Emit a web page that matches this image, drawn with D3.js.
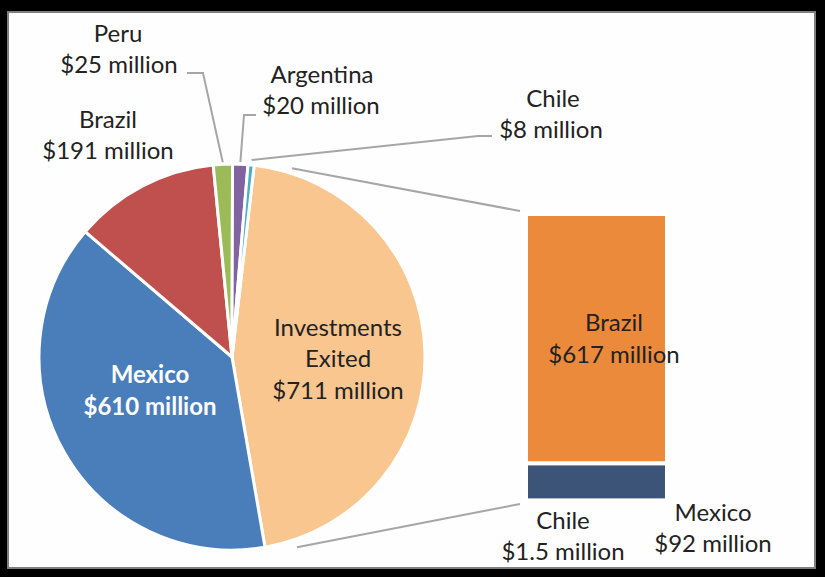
<!DOCTYPE html>
<html>
<head>
<meta charset="utf-8">
<script src="https://cdn.jsdelivr.net/npm/d3@7"></script>
<style>
  html, body { margin: 0; padding: 0; background: #000; }
  svg { display: block; }
  .lbl { font-family: Lato, "Open Sans", sans-serif; font-size: 24px; fill: #222; }
</style>
</head>
<body>
<div id="vis"></div>
<script>
// pie slices (clockwise from the "other" slice)
var pieNames  = ["Investments Exited", "Mexico", "Brazil", "Peru", "Argentina", "Chile"];
var pieValues = [711, 610, 191, 25, 20, 8];
var pieColors = ["#f9c690", "#4a7ebb", "#c0504d", "#9bbb59", "#8064a2", "#4bacc6"];

// bar of pie: breakdown of investments exited, top to bottom
var barNames  = ["Brazil", "Mexico", "Chile"];
var barValues = [617, 92, 1.5];
var barColors = ["#eb8a3b", "#3b5478", "#4bacc6"];

var width = 825, height = 577;

var svg = d3.select('#vis').append('svg')
    .attr('width', width)
    .attr('height', height);

// frame
svg.append('rect')
    .attr('x', 8).attr('y', 12)
    .attr('width', 807).attr('height', 556)
    .attr('fill', '#fefefe')
    .attr('stroke', '#7f7f7f')
    .attr('stroke-width', 2);

//Pie
//----------------------------------------------
var cx = 232, cy = 357, r = 193;
var startDeg = 6.6; // rotation of the first slice
var rad = Math.PI / 180;

var pie = d3.pie().sort(null)
    .startAngle(startDeg * rad)
    .endAngle(startDeg * rad + 2 * Math.PI);
var arcs = pie(pieValues);
var arc = d3.arc().innerRadius(0).outerRadius(r);

var gPie = svg.append('g').attr('transform', 'translate(' + cx + ',' + cy + ')');
gPie.selectAll('path.slice')
    .data(arcs)
    .enter().append('path')
    .attr('class', 'slice')
    .attr('d', arc)
    .attr('fill', function(d, i) { return pieColors[i]; })
    .attr('stroke', '#fff')
    .attr('stroke-width', 3)
    .attr('stroke-linejoin', 'round');

//Bar
//----------------------------------------------
var barX = 526, barW = 141;
var total = d3.sum(barValues);
var yScale = d3.scaleLinear().domain([0, total]).range([501, 214]);

// stack from the bottom: Chile, Mexico, Brazil
var stacked = [];
var acc = 0;
for (var i = barValues.length - 1; i >= 0; i--) {
    stacked.push({name: barNames[i], color: barColors[i], y0: acc, y1: acc + barValues[i]});
    acc += barValues[i];
}

svg.append('g').selectAll('rect')
    .data(stacked)
    .enter().append('rect')
    .attr('x', barX)
    .attr('width', barW)
    .attr('y', function(d) { return yScale(d.y1); })
    .attr('height', function(d) { return yScale(d.y0) - yScale(d.y1); })
    .attr('fill', function(d) { return d.color; })
    .attr('stroke', '#fff')
    .attr('stroke-width', 4);

//Connector lines (pie -> bar)
//----------------------------------------------
var exited = arcs[0];
function onPie(angle, rr) {
    var p = d3.pointRadial(angle, rr);
    return [cx + p[0], cy + p[1]];
}
var line = d3.line();
var grey = '#a6a6a6';

var c1 = onPie(exited.startAngle + 11 * rad, r + 5);
var c2 = onPie(exited.endAngle - 9 * rad, r + 8);
svg.append('path').attr('d', line([c1, [barX - 6, yScale(total) - 3]]))
    .attr('fill', 'none').attr('stroke', grey).attr('stroke-width', 2);
svg.append('path').attr('d', line([c2, [barX - 6, yScale(0) + 3]]))
    .attr('fill', 'none').attr('stroke', grey).attr('stroke-width', 2);

//Leader lines for small slices
//----------------------------------------------
function midAngle(d) { return (d.startAngle + d.endAngle) / 2; }
var leaders = [
    [onPie(midAngle(arcs[3]), r + 2), [203, 73], [187, 73]],   // Peru
    [onPie(midAngle(arcs[4]), r + 2), [244, 115], [256, 115]], // Argentina
    [onPie(midAngle(arcs[5]) + 0 , r + 5), [478, 136], [492, 136]] // Chile
];
svg.append('g').selectAll('path')
    .data(leaders)
    .enter().append('path')
    .attr('d', function(d) { return line(d); })
    .attr('fill', 'none')
    .attr('stroke', grey)
    .attr('stroke-width', 2);

//Labels
//----------------------------------------------
var labels = [
    {x: 118, y: 42,  t: "Peru"},
    {x: 119, y: 73,  t: "$25 million"},
    {x: 322, y: 83,  t: "Argentina"},
    {x: 321, y: 114, t: "$20 million"},
    {x: 553, y: 107, t: "Chile"},
    {x: 551, y: 138, t: "$8 million"},
    {x: 108, y: 128, t: "Brazil"},
    {x: 108, y: 159, t: "$191 million"},
    {x: 150, y: 383, t: "Mexico", white: true},
    {x: 150, y: 415, t: "$610 million", white: true},
    {x: 338, y: 336, t: "Investments"},
    {x: 338, y: 367, t: "Exited"},
    {x: 338, y: 399, t: "$711 million"},
    {x: 614, y: 331, t: "Brazil"},
    {x: 614, y: 363, t: "$617 million"},
    {x: 563, y: 529, t: "Chile"},
    {x: 563, y: 560, t: "$1.5 million"},
    {x: 713, y: 521, t: "Mexico"},
    {x: 713, y: 552, t: "$92 million"}
];

svg.append('g').selectAll('text')
    .data(labels)
    .enter().append('text')
    .attr('class', 'lbl')
    .attr('x', function(d) { return d.x; })
    .attr('y', function(d) { return d.y; })
    .attr('text-anchor', 'middle')
    .style('fill', function(d) { return d.white ? '#fff' : null; })
    .style('font-weight', function(d) { return d.white ? 'bold' : null; })
    .text(function(d) { return d.t; });
</script>
</body>
</html>
